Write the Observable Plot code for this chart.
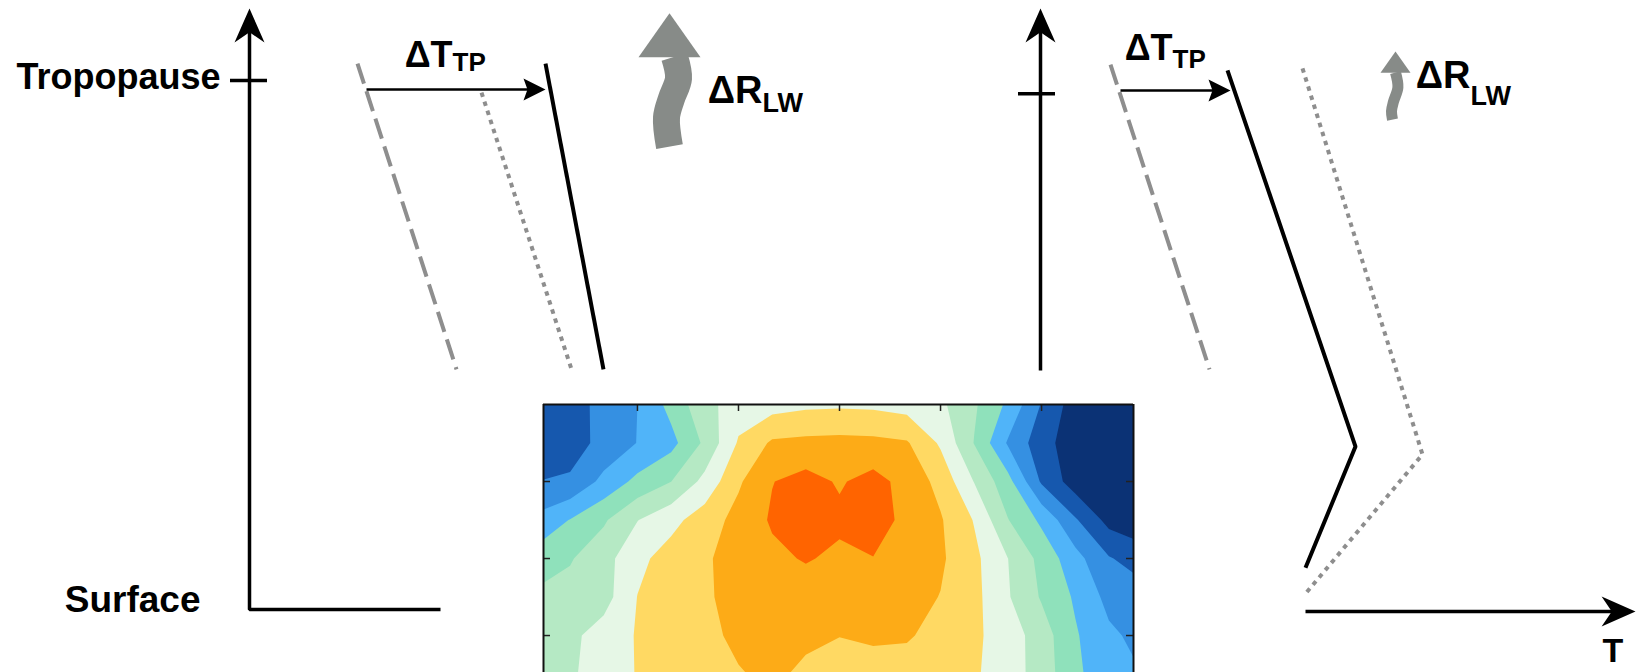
<!DOCTYPE html>
<html>
<head>
<meta charset="utf-8">
<script src="https://cdn.jsdelivr.net/npm/d3@7"></script>
<script src="https://cdn.jsdelivr.net/npm/@observablehq/plot@0.6"></script>
<style>
  html, body { margin: 0; padding: 0; background: #fff; }
  #fig { position: relative; width: 1647px; height: 672px; overflow: hidden; background: #fff; }
  #fig > svg { position: absolute; background: transparent; }
</style>
</head>
<body>
<div id="fig"></div>
<script>
// ================= DATA =================
// Schematic panels: T = temperature (arbitrary units, 0 at the vertical axis),
// z = height (0 = surface, 10 = tropopause level)
const leftAxis      = [{T: 0, z: 11.1}, {T: 0, z: 0}, {T: 9.55, z: 0}];
const leftAxisTip   = [{T: 0, z: 11.36}];
const leftTick      = [{T1: -0.95, T2: 0.9, z: 10}];
const leftDashed    = [{T: 5.4, z: 10.32}, {T: 10.35, z: 4.54}];
const leftDotted    = [{T: 11.6, z: 9.77}, {T: 16.1, z: 4.54}];
const leftSolid     = [{T: 14.8, z: 10.32}, {T: 17.7, z: 4.54}];
const leftDeltaT    = [{T1: 5.85, T2: 14.3, tip: 14.8, z: 9.83}];
const leftWave      = [[21.25, 10.45], [21.45, 10.04], [21.1, 9.66], [20.85, 9.30], [21.0, 8.75]];
const leftWaveTip   = [{T: 21.0, z: 11.27}];
const leftBigLabels = [{T: -1.45, z: 9.83, text: "Tropopause"}];
const leftSurface   = [{T: -2.45, z: -0.04, text: "Surface"}];
const leftDTmain    = [{T: 10.15, z: 10.26, text: "ΔT"}];
const leftDTsub     = [{T: 10.15, z: 10.18, text: "TP"}];
const leftDRmain    = [{T: 25.65, z: 9.58, text: "ΔR"}];
const leftDRsub     = [{T: 25.65, z: 9.40, text: "LW"}];

const rightVAxis    = [{T: 0, z: 4.52}, {T: 0, z: 11.1}];
const rightVAxisTip = [{T: 0, z: 11.36}];
const rightHAxis    = [{T: 13.25, z: -0.04}, {T: 29.0, z: -0.04}];
const rightHAxisTip = [{T: 29.75, z: -0.04}];
const rightTick     = [{T1: -1.1, T2: 0.75, z: 9.75}];
const rightDashed   = [{T: 3.5, z: 10.30}, {T: 8.45, z: 4.54}];
const rightSolid    = [{T: 9.35, z: 10.19}, {T: 15.75, z: 3.08}, {T: 13.25, z: 0.79}];
const rightDotted   = [{T: 13.1, z: 10.23}, {T: 19.1, z: 2.93}, {T: 13.25, z: 0.30}];
const rightDeltaT   = [{T1: 4.0, T2: 9.0, tip: 9.5, z: 9.81}];
const rightWave     = [[17.75, 10.15], [17.87, 9.87], [17.65, 9.60], [17.55, 9.42], [17.6, 9.26]];
const rightWaveTip  = [{T: 17.75, z: 10.55}];
const rightDTmain   = [{T: 6.6, z: 10.38, text: "ΔT"}];
const rightDTsub    = [{T: 6.6, z: 10.23, text: "TP"}];
const rightDRmain   = [{T: 21.5, z: 9.85, text: "ΔR"}];
const rightDRsub    = [{T: 21.5, z: 9.53, text: "LW"}];
const rightTLabel   = [{T: 28.1, z: -0.99, text: "T"}];

// Inset: latitude-height cross-section of the warming (contour level index)
const lats = [-90, -80, -70, -60, -50, -40, -30, -20, -10, 0, 10, 20, 30, 40, 50, 60, 70, 80, 90];
const rows = [0, 0.5, 1, 1.5, 2, 2.5, 3, 3.5];   // height index, top to bottom
const tempChange = [
  [1.23, 1.68, 2.23, 3.00, 4.33, 5.67, 6.50, 6.60, 6.80, 6.85, 6.80, 6.60, 6.20, 5.14, 3.81, 1.93, 0.50, 0.30, 0.20],
  [1.20, 1.60, 2.27, 3.03, 3.69, 5.19, 7.11, 8.15, 8.25, 8.30, 8.25, 8.10, 6.86, 4.96, 2.89, 1.41, 0.40, 0.10, 0.00],
  [2.00, 2.13, 3.28, 4.27, 4.99, 6.29, 7.86, 8.97, 9.35, 8.90, 9.35, 8.66, 7.69, 5.96, 4.35, 1.86, 0.50, 0.20, 0.10],
  [3.25, 4.04, 4.87, 5.97, 6.70, 7.50, 8.33, 9.12, 9.45, 9.20, 9.35, 8.80, 8.09, 6.94, 5.04, 3.80, 2.12, 0.67, 0.30],
  [4.40, 4.92, 5.62, 6.75, 7.41, 7.89, 8.35, 8.78, 9.08, 8.80, 8.98, 8.60, 8.15, 7.24, 6.01, 4.69, 3.36, 2.08, 1.50],
  [5.20, 5.35, 5.60, 7.02, 7.45, 7.88, 8.30, 8.45, 8.50, 8.50, 8.45, 8.35, 7.97, 7.29, 6.09, 4.90, 3.87, 2.70, 2.40],
  [5.30, 5.76, 6.45, 7.07, 7.45, 7.82, 8.15, 8.25, 8.15, 8.02, 8.15, 8.12, 7.62, 7.18, 6.53, 5.49, 4.11, 3.19, 2.70],
  [5.30, 5.85, 6.50, 7.05, 7.40, 7.70, 7.95, 8.15, 7.85, 7.60, 7.60, 7.50, 7.35, 7.12, 6.50, 5.55, 4.20, 3.40, 3.00]
];
const levels = [1, 2, 3, 4, 5, 6, 7, 8, 9];
const palette = ["#0b3275", "#1658ae", "#3590e2", "#50b4f9", "#8fe1bb", "#b5e9c4", "#e6f7e6", "#ffd963", "#fdab17", "#ff6400"];
const latTicks = [-60, -30, 0, 30, 60];
const rowTicks = [1, 2, 3];
const latExtent = [-87.9, 87.3];
const rowExtent = [0, 3.48];

// ================= STYLE / HELPERS =================
const FONT = "'Liberation Sans', Arial, Helvetica, sans-serif";
const GRAY = "#8e8e8e";
const WAVE = "#878b88";
const zDomain = [-1.191, 11.512];

function arrowHead(aspect, notch) {
  return {
    draw(context, size) {
      const r = Math.sqrt(size / Math.PI), h = 2 * r * aspect;
      context.moveTo(0, 0);
      context.lineTo(r, h);
      context.lineTo(0, h * (1 - notch));
      context.lineTo(-r, h);
      context.closePath();
    }
  };
}
const axisHead = arrowHead(1.13, 0.3);
const deltaHead = arrowHead(1.0, 0.18);
const waveHead = arrowHead(0.71, 0);

const txt = (data, size, anchor) => Plot.text(data, {
  x: "T", y: "z", text: "text", textAnchor: anchor, lineAnchor: "bottom",
  fontSize: size, fontWeight: "bold", fontFamily: FONT, fill: "#000"
});
const pline = (data, opts) => Plot.line(data, {x: "T", y: "z", strokeLinecap: "butt", ...opts});

function panel(width, xDomain, marks) {
  return Plot.plot({
    width, height: 672, margin: 0,
    x: {domain: xDomain, axis: null},
    y: {domain: zDomain, axis: null},
    style: {background: "transparent", overflow: "visible"},
    marks
  });
}

// ================= LEFT PANEL =================
const left = panel(830, [-12.45, 29.05], [
  pline(leftDashed, {stroke: GRAY, strokeWidth: 4, strokeDasharray: "21,8"}),
  pline(leftDotted, {stroke: GRAY, strokeWidth: 4, strokeDasharray: "4.5,5"}),
  pline(leftSolid, {stroke: "#000", strokeWidth: 4}),
  pline(leftAxis, {stroke: "#000", strokeWidth: 3.5, strokeLinejoin: "miter"}),
  Plot.ruleY(leftTick, {y: "z", x1: "T1", x2: "T2", stroke: "#000", strokeWidth: 3.5}),
  Plot.dot(leftAxisTip, {x: "T", y: "z", symbol: axisHead, r: 15, fill: "#000", stroke: "none"}),
  Plot.link(leftDeltaT, {x1: "T1", x2: "T2", y1: "z", y2: "z", stroke: "#000", strokeWidth: 2.5}),
  Plot.dot(leftDeltaT, {x: "tip", y: "z", symbol: deltaHead, r: 11, rotate: 90, fill: "#000", stroke: "none"}),
  Plot.line(leftWave, {curve: "catmull-rom", stroke: WAVE, strokeWidth: 27, strokeLinecap: "butt"}),
  Plot.dot(leftWaveTip, {x: "T", y: "z", symbol: waveHead, r: 31, fill: WAVE, stroke: "none"}),
  txt(leftBigLabels, 36, "end"),
  txt(leftSurface, 37, "end"),
  txt(leftDTmain, 36, "end"),
  txt(leftDTsub, 26, "start"),
  txt(leftDRmain, 38, "end"),
  txt(leftDRsub, 27, "start")
]);
left.style.left = "0px"; left.style.top = "0px";

// ================= RIGHT PANEL =================
const right = panel(817, [-10.5, 30.35], [
  pline(rightDashed, {stroke: GRAY, strokeWidth: 4, strokeDasharray: "21,8"}),
  pline(rightDotted, {stroke: GRAY, strokeWidth: 4, strokeDasharray: "4.5,5"}),
  pline(rightSolid, {stroke: "#000", strokeWidth: 4, strokeLinejoin: "miter"}),
  pline(rightVAxis, {stroke: "#000", strokeWidth: 3.5}),
  pline(rightHAxis, {stroke: "#000", strokeWidth: 3.5}),
  Plot.ruleY(rightTick, {y: "z", x1: "T1", x2: "T2", stroke: "#000", strokeWidth: 3.5}),
  Plot.dot(rightVAxisTip, {x: "T", y: "z", symbol: axisHead, r: 15, fill: "#000", stroke: "none"}),
  Plot.dot(rightHAxisTip, {x: "T", y: "z", symbol: axisHead, r: 15, rotate: 90, fill: "#000", stroke: "none"}),
  Plot.link(rightDeltaT, {x1: "T1", x2: "T2", y1: "z", y2: "z", stroke: "#000", strokeWidth: 2.5}),
  Plot.dot(rightDeltaT, {x: "tip", y: "z", symbol: deltaHead, r: 11, rotate: 90, fill: "#000", stroke: "none"}),
  Plot.line(rightWave, {curve: "catmull-rom", stroke: WAVE, strokeWidth: 11, strokeLinecap: "butt"}),
  Plot.dot(rightWaveTip, {x: "T", y: "z", symbol: waveHead, r: 15, fill: WAVE, stroke: "none"}),
  txt(rightDTmain, 36, "end"),
  txt(rightDTsub, 26, "start"),
  txt(rightDRmain, 38, "end"),
  txt(rightDRsub, 27, "start"),
  txt(rightTLabel, 34, "start")
]);
right.style.left = "830px"; right.style.top = "0px";

// ================= INSET =================
const insetW = 596, insetH = 272, mL = 3, mR = 3, mT = 4, mB = 0;
const frameW = insetW - mL - mR, frameH = insetH - mT - mB;
const dLat = lats[1] - lats[0], dRow = rows[1] - rows[0];
const tickLen = 7;
const inset = Plot.plot({
  width: insetW, height: insetH,
  marginLeft: mL, marginRight: mR, marginTop: mT, marginBottom: mB,
  x: {domain: latExtent, axis: null},
  y: {domain: rowExtent, reverse: true, axis: null},
  color: {type: "threshold", domain: levels, range: palette},
  style: {background: "transparent", overflow: "hidden"},
  marks: [
    Plot.contour(tempChange.flat(), {
      width: lats.length, height: rows.length,
      x1: lats[0] - dLat / 2, x2: lats[lats.length - 1] + dLat / 2,
      y1: rows[0] - dRow / 2, y2: rows[rows.length - 1] + dRow / 2,
      fill: Plot.identity, thresholds: [-1, ...levels], stroke: "none", clip: true
    }),
    Plot.tickX(latTicks, {x: d => d, stroke: "#222", strokeWidth: 1.5, insetBottom: frameH - tickLen}),
    Plot.tickY(rowTicks, {y: d => d, stroke: "#222", strokeWidth: 1.5, insetRight: frameW - tickLen}),
    Plot.tickY(rowTicks, {y: d => d, stroke: "#222", strokeWidth: 1.5, insetLeft: frameW - tickLen}),
    Plot.ruleX(latExtent, {stroke: "#111", strokeWidth: 2}),
    Plot.ruleY([rowExtent[0]], {stroke: "#111", strokeWidth: 2})
  ]
});
inset.style.left = "540px"; inset.style.top = "400px";

const fig = document.getElementById("fig");
fig.append(left, right, inset);
</script>
</body>
</html>
